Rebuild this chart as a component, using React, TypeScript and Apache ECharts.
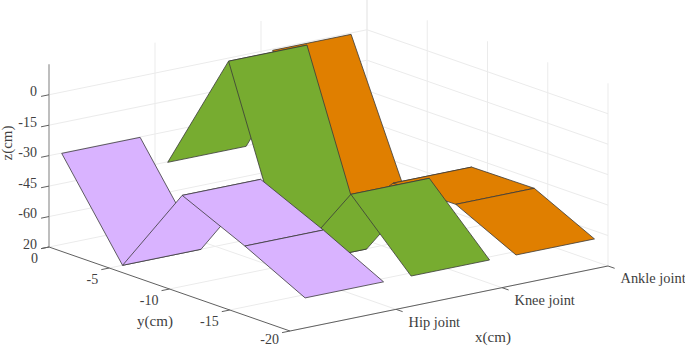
import React, { useEffect, useRef } from "react";
import * as echarts from "echarts";

// Joint categories (x axis)
const jointNames = ["Hip joint", "Knee joint", "Ankle joint"];
const jointPositions = [1, 2, 3];
const ribbonCentres = [0.99, 1.99, 2.98];
const ribbonHalfWidth = 0.37;
const ribbonColors = ["#D9B3FF", "#77AC30", "#E07F00"];

// Profile (y, z in cm) of each ribbon
const profileY = [4.4, -0.65, -5.6, -10.8, -15.8];
const hipZ = [-44.6, -89.3, -44.6, -58.8, -74];
const kneeZ = [-59.7, 0.6, -89.6, -44, -73.9];
const ankleZ = [-15.1, -91.8, -59.8, -59.5, -74.1];

// Axis ticks
const yTicks = [0, -5, -10, -15, -20];
const zTicks = [0, -15, -30, -45, -60];
const zBottomTick = -75;
const zBottomLabel = "20";
const xMin = 0, xMax = 3, yMin = -20, yMax = 0, zMin = -75, zMax = 15;

// Orthographic projection of the 3D box on the page
function project(x: number, y: number, z: number): [number, number] {
  return [
    49 - y * 12.05 + x * 106,
    247 - y * 4.2 - x * 21.67 - (z - zMin) * 2.03,
  ];
}

type P3 = [number, number, number];
type Seg = { a: P3; b: P3; kind: string };

const gridSegs: Seg[] = [];
const axisSegs: Seg[] = [];
// walls and floor
zTicks.forEach((z) => {
  gridSegs.push({ a: [xMin, yMax, z], b: [xMax, yMax, z], kind: "g" });
  gridSegs.push({ a: [xMax, yMax, z], b: [xMax, yMin, z], kind: "g" });
});
jointPositions.forEach((x) => {
  gridSegs.push({ a: [x, yMax, zMin], b: [x, yMax, zMax], kind: "g" });
  gridSegs.push({ a: [x, yMax, zMin], b: [x, yMin, zMin], kind: "g" });
});
yTicks.forEach((y) => {
  gridSegs.push({ a: [xMax, y, zMin], b: [xMax, y, zMax], kind: "g" });
  gridSegs.push({ a: [xMin, y, zMin], b: [xMax, y, zMin], kind: "g" });
});
axisSegs.push({ a: [xMin, yMax, zMin], b: [xMin, yMax, zMax], kind: "z" });
axisSegs.push({ a: [xMin, yMax, zMin], b: [xMin, yMin, zMin], kind: "a" });
axisSegs.push({ a: [xMin, yMin, zMin], b: [xMax, yMin, zMin], kind: "a" });
zTicks.concat([zBottomTick]).forEach((z) => {
  axisSegs.push({ a: [xMin, yMax, z], b: [xMin - 0.075, yMax, z], kind: "a" });
});
yTicks.forEach((y) => {
  axisSegs.push({ a: [xMin, y, zMin], b: [xMin - 0.075, y, zMin], kind: "a" });
});
jointPositions.forEach((x) => {
  axisSegs.push({ a: [x, yMin, zMin], b: [x, yMin - 0.55, zMin], kind: "a" });
});

type Lbl = { text: string; at: P3; dx: number; dy: number; align: string; size: number };
const labels: Lbl[] = [
  ...zTicks.map((z) => ({ text: String(z), at: [xMin, yMax, z] as P3, dx: -12, dy: -3, align: "right", size: 14 })),
  { text: zBottomLabel, at: [xMin, yMax, zBottomTick] as P3, dx: -12, dy: -3, align: "right", size: 14 },
  ...yTicks.map((y) => ({ text: String(y), at: [xMin, y, zMin] as P3, dx: -11, dy: y === yMin ? 8.5 : 11, align: "right", size: 14 })),
  ...jointPositions.map((x, i) => ({ text: jointNames[i], at: [x, yMin, zMin] as P3, dx: 12.5, dy: 12.5, align: "left", size: 14.4 })),
];

const segRender = (list: Seg[]) => (_p: any, api: any) => {
  const s = list[api.value(0)];
  const a = api.coord(project(...s.a));
  const b = api.coord(project(...s.b));
  const isGrid = s.kind === "g";
  return {
    type: "line",
    shape: { x1: a[0], y1: a[1], x2: b[0], y2: b[1] },
    style: {
      stroke: isGrid ? "#EBEBEB" : s.kind === "z" ? "#A8A8A8" : "#606060",
      lineWidth: s.kind === "z" ? 1.5 : 1,
    },
  };
};

function ribbonSeries(index: number, zs: number[]) {
  const cx = ribbonCentres[index];
  const xL = cx - ribbonHalfWidth;
  const xR = cx + ribbonHalfWidth;
  const segments = profileY.slice(0, -1).map((_, i) => [i]);
  return {
    type: "custom",
    name: jointNames[index],
    coordinateSystem: "cartesian2d",
    silent: true,
    clip: false,
    z: 5 + (2 - index),
    data: segments,
    renderItem: (_p: any, api: any) => {
      const i = api.value(0);
      const pts = [
        project(xL, profileY[i], zs[i]),
        project(xR, profileY[i], zs[i]),
        project(xR, profileY[i + 1], zs[i + 1]),
        project(xL, profileY[i + 1], zs[i + 1]),
      ].map((p) => api.coord(p));
      return {
        type: "polygon",
        shape: { points: pts },
        style: { fill: ribbonColors[index], stroke: "#3A3A3A", lineWidth: 0.8, lineJoin: "round" },
      };
    },
  };
}

const textStyle = {
  fontFamily: "'Liberation Serif', serif",
  fontSize: 14,
  fill: "#404040",
};
const titleStyle = { ...textStyle, fontSize: 15 };

export default function App() {
  const ref = useRef<HTMLDivElement>(null);
  useEffect(() => {
    document.body.style.margin = "0";
    const chart = echarts.init(ref.current!, undefined, { renderer: "svg" });
    chart.setOption({
      animation: false,
      backgroundColor: "#ffffff",
      grid: { left: 0, right: 0, top: 0, bottom: 0 },
      xAxis: { type: "value", min: 0, max: 685, show: false },
      yAxis: { type: "value", min: 0, max: 347, inverse: true, show: false },
      series: [
        {
          type: "custom",
          name: "grid",
          silent: true,
          clip: false,
          z: 1,
          data: gridSegs.map((_, i) => [i]),
          renderItem: segRender(gridSegs),
        },
        {
          type: "custom",
          name: "axes",
          silent: true,
          clip: false,
          z: 2,
          data: axisSegs.map((_, i) => [i]),
          renderItem: segRender(axisSegs),
        },
        ribbonSeries(2, ankleZ),
        ribbonSeries(1, kneeZ),
        ribbonSeries(0, hipZ),
        {
          type: "custom",
          name: "labels",
          silent: true,
          clip: false,
          z: 10,
          data: labels.map((_, i) => [i]),
          renderItem: (_p: any, api: any) => {
            const l = labels[api.value(0)];
            const c = api.coord(project(...l.at));
            return {
              type: "text",
              x: c[0] + l.dx,
              y: c[1] + l.dy,
              style: { ...textStyle, fontSize: l.size, text: l.text, align: l.align, verticalAlign: "middle" },
            };
          },
        },
      ],
      graphic: [
        { type: "text", x: 155, y: 321, z: 20, style: { ...titleStyle, text: "y(cm)", align: "center", verticalAlign: "middle" } },
        { type: "text", x: 493, y: 337, z: 20, style: { ...titleStyle, text: "x(cm)", align: "center", verticalAlign: "middle" } },
        { type: "text", x: 7, y: 143, rotation: Math.PI / 2, z: 20, style: { ...titleStyle, text: "z(cm)", align: "center", verticalAlign: "middle" } },
      ],
    });
    return () => chart.dispose();
  }, []);
  return <div ref={ref} style={{ width: 685, height: 347 }} />;
}
